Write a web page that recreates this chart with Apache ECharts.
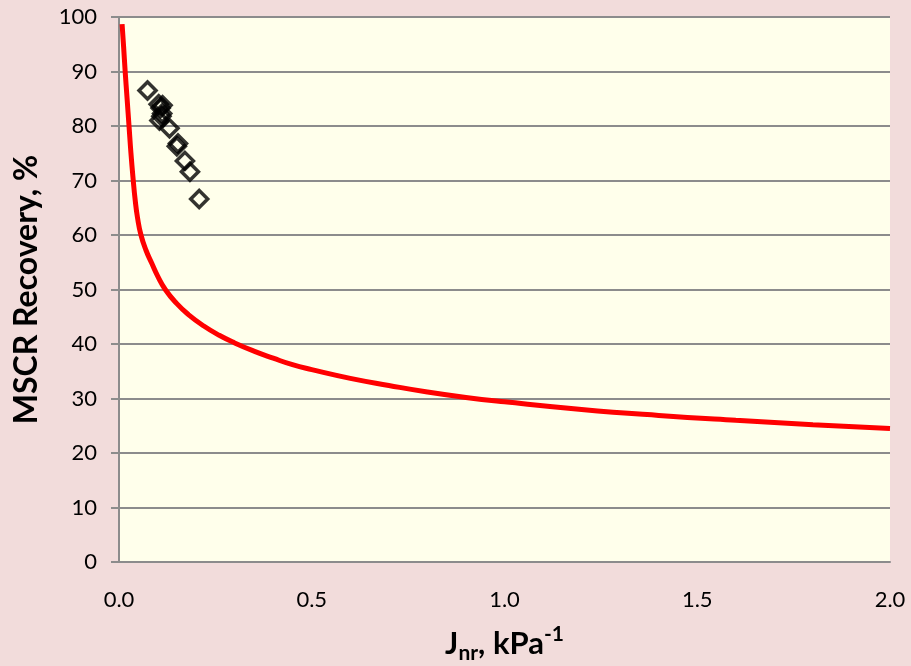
<!DOCTYPE html>
<html>
<head>
<meta charset="utf-8">
<script src="https://cdn.jsdelivr.net/npm/echarts@6/dist/echarts.min.js"></script>
<style>
html,body{margin:0;padding:0;background:#f2dcdb;}
#chart{width:911px;height:666px;}
</style>
</head>
<body>
<div id="chart"></div>
<script>
// Measured MSCR test points [Jnr, Recovery %]
var measuredPoints = [
  [0.074, 86.5], [0.103, 84.0], [0.108, 83.3], [0.113, 83.8], [0.112, 82.3],
  [0.110, 81.8], [0.105, 81.0], [0.131, 79.6], [0.150, 76.3], [0.153, 76.8],
  [0.171, 73.6], [0.184, 71.6], [0.208, 66.6]
];
// Reference curve [Jnr, Recovery %]
var curvePoints = [
  [0.008, 98.7], [0.012, 94.5], [0.016, 90.0], [0.021, 85.0], [0.026, 80.0],
  [0.031, 75.0], [0.037, 70.0], [0.042, 66.4], [0.048, 63.2], [0.057, 60.0],
  [0.070, 57.2], [0.085, 54.8], [0.100, 52.5], [0.120, 50.0], [0.150, 47.4],
  [0.180, 45.4], [0.220, 43.3], [0.260, 41.6], [0.300, 40.2], [0.350, 38.7],
  [0.400, 37.4], [0.450, 36.2], [0.500, 35.3], [0.600, 33.7], [0.700, 32.4],
  [0.800, 31.2], [0.900, 30.2], [1.000, 29.4], [1.200, 28.0], [1.400, 26.9],
  [1.600, 26.0], [1.800, 25.2], [2.000, 24.5]
];
var xTicks = [0, 0.5, 1.0, 1.5, 2.0];
var yTicks = [0, 10, 20, 30, 40, 50, 60, 70, 80, 90, 100];

var FONT = 'Lato, "Open Sans", sans-serif';
var chart = echarts.init(document.getElementById('chart'));
chart.setOption({
  backgroundColor: '#f2dcdb',
  animation: false,
  grid: {left: 119, right: 21, top: 17, bottom: 104, show: true, backgroundColor: '#ffffeb', borderWidth: 0,
         containLabel: false, outerBoundsMode: 'none'},
  xAxis: {
    type: 'value', min: xTicks[0], max: xTicks[xTicks.length - 1], interval: 0.5,
    axisLine: {show: true, lineStyle: {color: '#8c8c8c', width: 2}},
    axisTick: {show: false},
    splitLine: {show: false},
    axisLabel: {color: '#000', fontSize: 22, fontFamily: FONT, margin: 27,
      formatter: function (v) { return v.toFixed(1); }},
    name: '{b|J}{sub|nr}{b|, kPa}{sup|-1}',
    nameLocation: 'middle', nameGap: 62,
    nameTextStyle: {
      rich: {
        b: {fontSize: 31, fontWeight: 'bold', fontFamily: FONT, color: '#000', lineHeight: 40, verticalAlign: 'middle'},
        sub: {fontSize: 21, fontWeight: 'bold', fontFamily: FONT, color: '#000', verticalAlign: 'bottom', lineHeight: 40},
        sup: {fontSize: 21, fontWeight: 'bold', fontFamily: FONT, color: '#000', verticalAlign: 'top', lineHeight: 40}
      }
    }
  },
  yAxis: {
    type: 'value', min: yTicks[0], max: yTicks[yTicks.length - 1], interval: 10,
    axisLine: {show: true, lineStyle: {color: '#8c8c8c', width: 2}},
    axisTick: {show: true, length: 8, lineStyle: {color: '#8c8c8c', width: 2}},
    splitLine: {show: true, lineStyle: {color: '#8c8c8c', width: 2}},
    axisLabel: {color: '#000', fontSize: 22, fontFamily: FONT, margin: 22},
    name: 'MSCR Recovery, %', nameLocation: 'middle', nameGap: 76,
    nameTextStyle: {fontSize: 32, fontWeight: 'bold', fontFamily: FONT, color: '#000'}
  },
  series: [
    {
      type: 'line', data: curvePoints, smooth: true, showSymbol: false,
      lineStyle: {color: '#ff0000', width: 5}, z: 2
    },
    {
      type: 'scatter', data: measuredPoints, symbol: 'diamond', symbolSize: 17,
      itemStyle: {color: 'rgba(0,0,0,0)', borderColor: '#000', borderWidth: 3.5}, z: 3
    }
  ]
});
</script>
</body>
</html>
